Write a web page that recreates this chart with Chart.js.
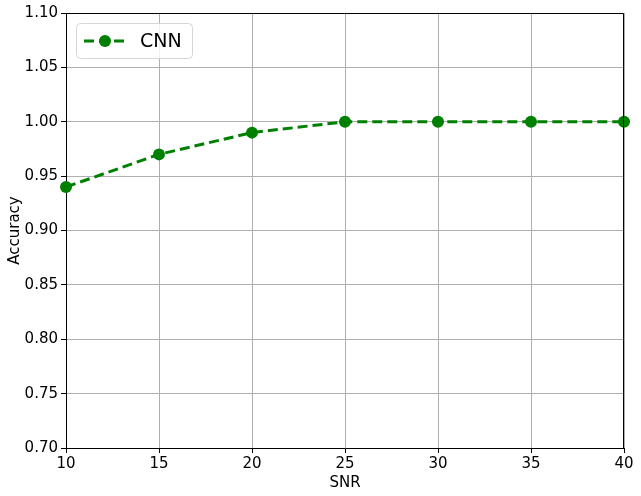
<!DOCTYPE html>
<html>
<head>
<meta charset="utf-8">
<script src="https://cdn.jsdelivr.net/npm/chart.js@4"></script>
<style>
html,body{margin:0;padding:0;background:#fff;}
#wrap{width:641px;height:496px;position:relative;}
</style>
</head>
<body>
<div id="wrap"><canvas id="c" width="641" height="496"></canvas></div>
<script>
const snr = [10, 15, 20, 25, 30, 35, 40];
const accuracy = [0.94, 0.97, 0.99, 1.00, 1.00, 1.00, 1.00];
const seriesName = 'CNN';
const xTitle = 'SNR';
const yTitle = 'Accuracy';

const FONT = 'DejaVu Sans';
const GREEN = '#008000';

const legendPlugin = {
  id: 'mplLegend',
  afterDraw(chart) {
    const ctx = chart.ctx;
    const a = chart.chartArea;
    ctx.save();
    ctx.strokeStyle = '#000';
    ctx.lineWidth = 1;
    ctx.beginPath();
    ctx.moveTo(a.left, a.top + 0.5);
    ctx.lineTo(a.right - 0.5, a.top + 0.5);
    ctx.lineTo(a.right - 0.5, a.bottom);
    ctx.stroke();
    const x = a.left + 10, y = a.top + 10, w = 116, h = 35, r = 4;
    ctx.fillStyle = 'rgba(255,255,255,0.8)';
    ctx.strokeStyle = '#d6d6d6';
    ctx.beginPath();
    ctx.roundRect(x + 0.5, y + 0.5, w, h, r);
    ctx.fill();
    ctx.stroke();
    const cy = y + h / 2 + 0.5;
    ctx.strokeStyle = GREEN;
    ctx.lineWidth = 3;
    ctx.setLineDash([10, 5]);
    ctx.beginPath();
    ctx.moveTo(x + 8, cy);
    ctx.lineTo(x + 50, cy);
    ctx.stroke();
    ctx.setLineDash([]);
    ctx.fillStyle = GREEN;
    ctx.beginPath();
    ctx.arc(x + 29, cy, 6, 0, Math.PI * 2);
    ctx.fill();
    ctx.fillStyle = '#000';
    ctx.font = '19px "' + FONT + '"';
    ctx.textBaseline = 'middle';
    ctx.fillText(seriesName, x + 64, cy + 1);
    ctx.restore();
  }
};

new Chart(document.getElementById('c'), {
  type: 'line',
  data: {
    datasets: [{
      label: seriesName,
      data: snr.map((s, i) => ({x: s, y: accuracy[i]})),
      borderColor: GREEN,
      backgroundColor: GREEN,
      borderWidth: 3,
      borderDash: [10, 5],
      pointRadius: 6,
      pointHoverRadius: 6,
      pointBackgroundColor: GREEN,
      pointBorderColor: GREEN,
      pointBorderWidth: 0,
      tension: 0,
      clip: false
    }]
  },
  options: {
    responsive: false,
    animation: false,
    events: [],
    layout: {padding: {top: 13, right: 17, left: 0, bottom: 0}},
    plugins: {legend: {display: false}, tooltip: {enabled: false}},
    scales: {
      x: {
        type: 'linear',
        min: 10, max: 40,
        ticks: {stepSize: 5, color: '#000', font: {family: FONT, size: 15}, padding: 2, maxRotation: 0},
        grid: {color: '#b0b0b0', lineWidth: 1, tickLength: 5, tickColor: '#000', drawTicks: true},
        border: {color: '#000', width: 1},
        title: {display: true, text: xTitle, color: '#000', font: {family: FONT, size: 15}, padding: {top: 0, bottom: 4}},
        afterFit(s) { s.height = 48; }
      },
      y: {
        min: 0.7, max: 1.1,
        ticks: {stepSize: 0.05, color: '#000', font: {family: FONT, size: 15}, padding: 3,
          callback: v => Number(v).toFixed(2)},
        grid: {color: '#b0b0b0', lineWidth: 1, tickLength: 5, tickColor: '#000'},
        border: {color: '#000', width: 1},
        title: {display: true, text: yTitle, color: '#000', font: {family: FONT, size: 15}, padding: {top: 6, bottom: 4}},
        afterFit(s) { s.width = 66; }
      }
    }
  },
  plugins: [legendPlugin]
});
</script>
</body>
</html>
